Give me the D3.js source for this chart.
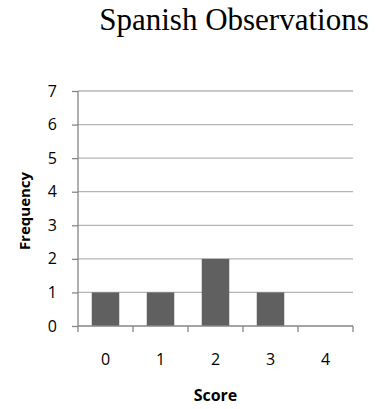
<!DOCTYPE html>
<html>
<head>
<meta charset="utf-8">
<script src="https://cdn.jsdelivr.net/npm/d3@7"></script>
<style>
  body { margin: 0; background: #fff; }
  .grid line { stroke: #b5b5b5; stroke-width: 1.3; }
  .axis path, .axis line { stroke: #868686; stroke-width: 1.3; }
  .axis text { font-family: "Open Sans", sans-serif; font-size: 16px; fill: #000; }
</style>
</head>
<body>
<div class="container"></div>
<script>
var WIDTH = 376, HEIGHT = 409;
var MARGIN = {top: 91, right: 23, bottom: 83, left: 78};
var INNER_WIDTH = WIDTH - MARGIN.left - MARGIN.right;
var INNER_HEIGHT = HEIGHT - MARGIN.top - MARGIN.bottom;

var scores = ["0", "1", "2", "3", "4"];
var frequency = [1, 1, 2, 1, 0];
var yTicks = [0, 1, 2, 3, 4, 5, 6, 7];

var svg = d3.select('.container').append('svg')
            .attr('width', WIDTH)
            .attr('height', HEIGHT);

svg.append('text')
   .attr('x', 234)
   .attr('y', 30)
   .attr('text-anchor', 'middle')
   .style('font-family', '"Liberation Serif", "Times New Roman", serif')
   .style('font-size', '31px')
   .text('Spanish Observations');

var xScale = d3.scaleBand()
               .domain(scores)
               .range([0, INNER_WIDTH])
               .paddingInner(0.5)
               .paddingOuter(0.25);

var yScale = d3.scaleLinear()
               .domain([0, 7])
               .range([INNER_HEIGHT, 0]);

var g = svg.append('g')
           .attr('transform', 'translate(' + MARGIN.left + ',' + MARGIN.top + ')');

// gridlines
g.append('g').classed('grid', true)
  .selectAll('line').data(yTicks.slice(1))
  .enter().append('line')
    .attr('x1', 0).attr('x2', INNER_WIDTH)
    .attr('y1', function(d){ return yScale(d); })
    .attr('y2', function(d){ return yScale(d); });

// bars
g.selectAll('rect.bar').data(frequency)
  .enter().append('rect')
    .classed('bar', true)
    .attr('x', function(d, i){ return xScale(scores[i]); })
    .attr('y', function(d){ return yScale(d); })
    .attr('width', xScale.bandwidth())
    .attr('height', function(d){ return INNER_HEIGHT - yScale(d); })
    .attr('fill', '#606060');

// y axis
var yAxis = g.append('g').classed('axis', true)
  .call(d3.axisLeft(yScale).tickValues(yTicks).tickFormat(d3.format('d')).tickSize(6).tickPadding(15));
yAxis.select('.domain').attr('d', 'M0,' + INNER_HEIGHT + 'V0');

// x axis: ticks at band boundaries
var step = xScale.step();
var xAxis = g.append('g').classed('axis', true)
  .attr('transform', 'translate(0,' + INNER_HEIGHT + ')');
xAxis.append('path')
  .attr('d', 'M0,0H' + INNER_WIDTH);
xAxis.selectAll('line').data(d3.range(scores.length + 1))
  .enter().append('line')
    .attr('x1', function(i){ return i * step; })
    .attr('x2', function(i){ return i * step; })
    .attr('y1', 0).attr('y2', 6);
xAxis.selectAll('text').data(scores)
  .enter().append('text')
    .attr('x', function(d){ return xScale(d) + xScale.bandwidth() / 2; })
    .attr('y', 39)
    .attr('text-anchor', 'middle')
    .text(function(d){ return d; });

svg.append('text')
   .attr('x', MARGIN.left + INNER_WIDTH / 2)
   .attr('y', 401)
   .attr('text-anchor', 'middle')
   .style('font-family', '"Open Sans", sans-serif')
   .style('font-weight', 'bold')
   .style('font-size', '16px')
   .text('Score');

svg.append('text')
   .attr('transform', 'translate(30,211) rotate(-90)')
   .attr('text-anchor', 'middle')
   .style('font-family', '"Open Sans", sans-serif')
   .style('font-weight', 'bold')
   .style('font-size', '15px')
   .text('Frequency');
</script>
</body>
</html>
